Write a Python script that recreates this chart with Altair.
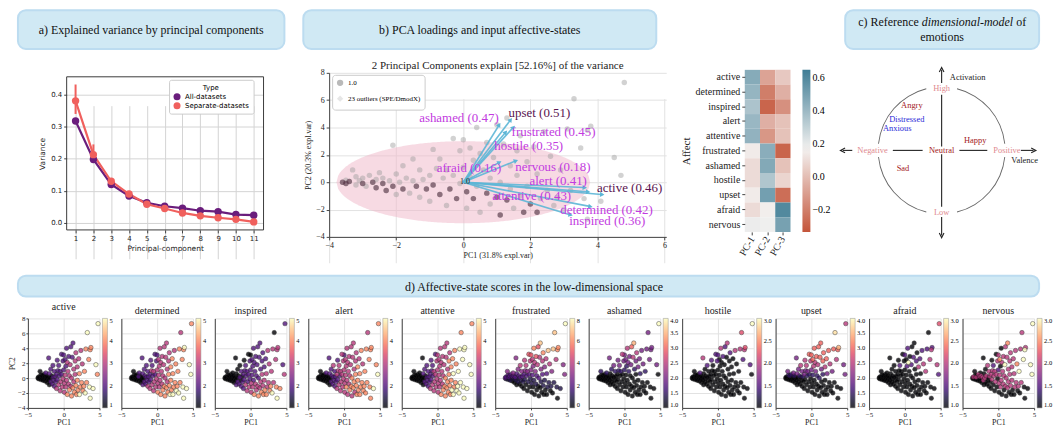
import numpy as np
import pandas as pd
import altair as alt

SERIF = "Liberation Serif"
SANS = "DejaVu Sans"
INK = "#222222"

# ---------------- panel a : explained variance ----------------
pc_index = list(range(1, 12))
var_all = [0.318, 0.198, 0.120, 0.084, 0.063, 0.052, 0.046, 0.038, 0.035, 0.026, 0.024]
var_sep = [0.381, 0.213, 0.130, 0.090, 0.058, 0.045, 0.031, 0.022, 0.016, 0.011, 0.003]
sep_low = [0.340, 0.190, 0.122, 0.086, 0.055, 0.042, 0.029, 0.020, 0.014, 0.009, 0.002]
sep_high = [0.432, 0.245, 0.138, 0.094, 0.061, 0.048, 0.033, 0.024, 0.018, 0.013, 0.004]
type_names = ["All-datasets", "Separate-datasets"]
type_colors = ["#6a1d7c", "#f0605d"]

# ---------------- PCA scores (shared by panel b and d) ----------------
score_pc1 = [
    -3.6, -3.5, -3.5, -3.4, -3.3, -3.2, -3.2, -3.1, -3.0, -3.0,
    -2.9, -2.8, -2.7, -2.6, -2.6, -2.5, -2.4, -2.4, -2.3, -2.2,
    -2.1, -2.1, -2.0, -2.0, -1.9, -1.8, -1.8, -1.7, -1.6, -1.5,
    -1.5, -1.4, -1.3, -1.3, -1.2, -1.1, -1.0, -1.0, -0.9, -0.9,
    -0.8, -0.7, -0.7, -0.6, -0.5, -0.5, -0.4, -0.3, -0.3, -0.2,
    -0.1, -0.1, 0.0, 0.0, 0.1, 0.1, 0.2, 0.2, 0.3, 0.3,
    0.4, 0.4, 0.5, 0.5, 0.6, 0.7, 0.7, 0.8, 0.8, 0.9,
    1.0, 1.0, 1.1, 1.1, 1.2, 1.3, 1.3, 1.4, 1.4, 1.5,
    1.6, 1.6, 1.7, 1.7, 1.8, 1.9, 1.9, 2.0, 2.1, 2.2,
    2.2, 2.3, 2.4, 2.5, 2.6, 2.7, 2.8, 2.9, 3.0, 3.1,
    3.2, 3.3, 3.5, 3.6, 3.7, 3.7, 3.8, 4.1, 4.5, 4.7, 4.8]
score_pc2 = [
    0.0, -0.1, 0.15, 0.05, 0.9, 0.4, -0.2, 0.1, -0.1, 0.3,
    -0.3, 0.5, 0.0, -0.4, 0.2, 0.7, -0.1, 0.3, -0.6, 0.1,
    2.7, -0.3, 0.6, -0.9, 0.0, 1.2, -0.5, 0.3, -0.8, 1.7,
    0.1, -0.3, 0.9, -1.1, 0.2, -0.5, 0.5, -1.4, 2.4, -0.2,
    1.0, -0.9, 1.7, 0.3, -1.7, 0.9, -0.5, 3.2, 0.5, -1.2,
    2.3, -0.1, 3.1, 1.1, -0.7, -1.9, 2.5, 0.4, 1.6, -1.2,
    4.0, -0.3, 2.1, -2.2, 0.9, -0.8, 2.9, -1.6, 0.3, 1.8,
    -1.1, 4.2, 0.0, -2.4, 2.8, -1.3, 4.7, 1.2, -0.5, -1.9,
    2.3, 0.5, -1.0, 3.4, -2.2, 1.5, -0.3, -1.6, 2.6, 0.6,
    -2.2, -1.2, 3.7, -0.6, 1.9, -1.7, -1.1, 0.9, -2.0, 3.9,
    -0.6, 6.1, 2.5, -1.2, 3.8, -2.7, 4.1, -1.4, 1.8, 0.5, 7.3]
dark_points = [0, 1, 3, 8, 12, 13, 16, 18, 21, 26, 31, 35, 39, 41, 46, 49, 54, 59, 65, 70, 73, 75, 84, 87, 90]

# ---------------- panel b : loadings ----------------
affect_names = ["active", "determined", "inspired", "alert", "attentive", "frustrated",
                "ashamed", "hostile", "upset", "afraid", "nervous"]
load_end_x = [4.12, 3.77, 3.18, 3.60, 3.70, 1.48, 1.06, 1.25, 1.40, 1.06, 1.55]
load_end_y = [-0.90, -1.77, -2.38, -0.39, -0.70, 3.98, 4.15, 3.61, 4.53, 1.43, 1.55]
label_txt = ["active (0.46)", "determined (0.42)", "inspired (0.36)", "alert (0.41)",
             "attentive (0.43)", "frustrated (0.45)", "ashamed (0.47)", "hostile (0.35)",
             "upset (0.51)", "afraid (0.16)", "nervous (0.18)"]
label_x = [4.96, 4.27, 4.29, 2.83, 2.04, 2.69, -0.13, 1.95, 2.27, 0.17, 2.67]
label_y = [-0.39, -2.04, -2.86, 0.07, -1.04, 3.66, 4.70, 2.62, 5.07, 1.07, 1.11]
label_is_max = [True, False, False, False, False, False, False, False, True, False, False]
legend_b = ["1.0", "23 outliers (SPE/DmodX)"]
title_b = "2 Principal Components explain [52.16%] of the variance"
ell_rx, ell_ry = 3.78, 3.0

# ---------------- heatmap ----------------
pc_cols = ["PC-1", "PC-2", "PC-3"]
pc1_load = [0.46, 0.42, 0.36, 0.41, 0.43, 0.15, 0.10, 0.10, 0.15, 0.10, 0.19]
pc2_load = [-0.08, -0.20, -0.28, -0.04, -0.12, 0.45, 0.47, 0.35, 0.51, 0.16, 0.18]
pc3_load = [0.04, -0.04, -0.14, 0.02, 0.02, -0.28, 0.02, 0.08, -0.25, 0.60, 0.50]

# ---------------- panel c : dimensional model ----------------
arc_from = [14, 96, 194, 276]
arc_to = [84, 166, 264, 346]
seg_x = [-0.77, 0.28, -1.41, 1.25, 0.0, 0.0, 0.0, 0.0]
seg_y = [0.0, 0.0, 0.0, 0.0, 0.06, 1.06, -0.06, -1.05]
seg_x2 = [-0.30, 0.72, -1.56, 1.45, 0.0, 0.0, 0.0, 0.0]
seg_y2 = [0.0, 0.0, 0.0, 0.0, 0.875, 1.27, -0.89, -1.34]
head_x = [-1.56, 1.45, 0.0, 0.0]
head_y = [0.0, 0.0, 1.27, -1.34]
head_ang = [270, 90, 0, 180]
c_text = ["Activation", "High", "Low", "Negative", "Positive", "Neutral", "Valence",
          "Angry", "Distressed", "Anxious", "Happy", "Sad"]
c_x = [0.41, 0.0, 0.0, -1.09, 1.03, 0.0, 1.31, -0.47, -0.55, -0.70, 0.53, -0.61]
c_y = [1.16, 0.98, -0.97, 0.0, 0.0, 0.0, -0.15, 0.72, 0.50, 0.36, 0.17, -0.28]
c_kind = ["axis", "pole", "pole", "pole", "pole", "emo", "axis", "emo", "anx", "anx", "emo", "emo"]

# ---------------- panel d : affect values per sample ----------------
affect_scores = {
    "active": [1,1,1,1,1,1,1,1,1,1, 1,1,1,1,1,2,1,1,1,1, 2,1,2,1,1,2,2,1,2,2,
               2,2,2,2,2,2,2,3,2,2, 2,3,2,2,3,2,3,2,2,3, 2,3,2,2,3,3,2,3,2,3,
               2,3,3,4,3,3,2,4,3,3, 3,2,3,4,2,4,2,3,3,4, 3,3,4,3,4,3,4,4,3,4,
               5,4,3,4,3,4,4,4,5,4, 4,5,4,5,4,5,4,5,5,4,5],
    "determined": [1,1,1,1,1,1,1,1,1,1, 1,1,1,1,2,2,1,1,1,1, 2,1,2,2,1,2,2,2,2,2,
                   2,2,2,3,2,2,2,3,2,2, 3,3,2,2,3,3,3,2,2,3, 2,3,2,3,3,4,3,3,3,3,
                   3,3,3,4,3,3,3,4,3,3, 4,3,3,4,3,4,3,3,3,4, 3,4,4,3,5,4,4,4,4,4,
                   5,4,3,4,4,5,4,4,5,4, 4,3,4,5,4,5,5,5,5,5,4],
    "inspired": [1,1,1,1,1,1,1,1,1,1, 1,1,1,1,1,1,1,1,1,1, 1,1,1,2,1,1,2,1,2,1,
                 2,1,2,2,1,2,2,2,1,2, 2,3,2,2,3,2,2,1,2,3, 2,2,1,2,3,3,2,2,2,3,
                 2,2,2,4,2,3,2,3,2,2, 3,2,2,4,2,3,2,2,3,4, 2,3,3,2,4,2,3,4,2,3,
                 4,3,3,3,3,4,4,3,5,3, 3,1,3,4,3,5,3,4,2,3,2],
    "alert": [1,1,1,1,1,1,1,1,1,1, 1,1,1,1,1,2,1,1,1,1, 2,1,2,1,1,2,2,2,2,3,
              2,2,2,2,2,2,3,3,2,2, 3,3,3,2,3,3,3,3,3,3, 3,3,2,3,3,3,3,3,3,4,
              3,3,3,3,3,3,3,4,3,3, 4,3,4,3,3,4,3,3,4,3, 3,4,4,3,4,4,4,4,3,4,
              4,4,4,4,3,4,4,4,4,4, 4,3,4,4,4,4,4,5,4,5,4],
    "attentive": [1,1,1,1,1,1,1,1,1,1, 1,1,1,1,1,1,1,1,1,1, 1,1,2,1,1,2,2,1,2,2,
                  2,2,2,2,2,2,2,3,2,2, 2,3,2,2,3,3,3,2,3,3, 3,3,3,3,3,3,3,3,3,3,
                  3,3,3,4,3,3,3,4,3,3, 4,3,4,4,3,4,3,3,4,4, 4,4,4,3,4,4,4,5,4,5,
                  5,4,4,4,4,5,5,5,5,5, 5,4,5,5,5,5,5,5,5,5,4],
    "frustrated": [2,1,2,1,3,2,1,2,1,2, 1,2,1,0,2,3,1,2,0,2, 3,1,2,0,1,3,1,2,0,4,
                   2,1,3,0,2,1,2,0,4,1, 3,0,4,2,0,3,1,5,2,0, 4,1,5,3,1,0,4,2,3,0,
                   6,1,4,0,3,1,5,0,2,4, 0,5,2,0,4,0,7,3,1,0, 4,2,1,6,0,3,1,0,4,2,
                   0,1,7,1,4,0,1,3,0,7, 1,7,4,1,6,0,6,1,3,3,8],
    "ashamed": [1,1,1,1,1.5,1,1,1,1,1, 1,1,1,1,1,1.5,1,1,1,1, 2,1,1,1,1,1.5,1,1,1,2,
                1,1,1.5,1,1,1,1,1,2,1, 1.5,1,2,1,1,1.5,1,2.5,1,1, 2,1,2,1.5,1,1,2,1,1.5,1,
                2.5,1,2,1,1.5,1,2,1,1,2, 1,3,1,1,2.5,1,3.5,1.5,1,1, 2,1,1,2.5,1,2,1,1,2,1.5,
                1,1,2,1,2,1,1,1.5,1,2, 1,2,2,1,2,1,2,1,2,1,4],
    "hostile": [1,1,1,1,1,1,1,1,1,1, 1,1,1,1,1,1.5,1,1,1,1, 2,1,1,1,1,1,1,1,1,1.5,
                1,1,1,1,1,1,1,1,1.5,1, 1,1,1,1,1,1,1,1.5,1,1, 1.5,1,1.5,1,1,1,1,1,1,1,
                2,1,1,1,1,1,1.5,1,1,1, 1,1.5,1,1,1,1,2,1,1,1, 1,1,1,1.5,1,1,1,1,1,1,
                1,1,2,1,1,1,1,1,1,2, 1,2.2,1.5,1,2,1,2.2,1,1.5,1,3],
    "upset": [1,1,1,1,2,1.5,1,1,1,1.5, 1,1.5,1,1,1,2,1,1.5,1,1, 2,1,2,1,1,2,1,1.5,1,2.5,
              1,1,2,1,1.5,1,2,1,2.5,1, 2,1,2.5,1.5,1,2,1,3,1.5,1, 2.5,1,3,2,1,1,3,1.5,2.5,1,
              3,1,2.5,1,2,1,3,1,1.5,2.5, 1,3,1.5,1,3,1,3,2,1,1, 3,1.5,1,3,1,2.5,1,1,3,2,
              1,1,3,1,2.5,1,1,2,1,3, 1,3.8,2.5,1,3,1,3.5,1,2,2,2.5],
    "afraid": [1,1,1,1,1,1,1,1,1,1, 1,1,1,1,1,1,1,1,1,1, 1,1,1,1,1,1,1,1,1,1,
               1,1,1,1,1,1,1,1,1,1, 1,1,1.5,1,1,1,1,1,1,1, 1,1,1.5,1,1,1,1,1,1.5,1,
               1.5,1,3,1,1,1,1,1,1,1.5, 1,1,1,1,1.5,1,1,1,1,1, 1.5,1,1,1,1,2,1,1,1.5,1,
               1,1,1.5,1,2,1,1,2,1,1.5, 1,1,2,1,2,1,1.5,1,2,1.5,2.2],
    "nervous": [1,1,2,1,1,1,1,2,1,1, 1,2,1,1,2,1,1,2,1,2, 1,2,1,1,2,1,1,2,1,2,
                1,1,2,1,2,1,2,1,1,2, 2,1,1.5,2,1,2,2,1,2,1, 2,1,2,1.5,2,1,2.5,2,1,2,
                1,2,2,1,2,2,2,1,2,3, 2,2,2,1,2,2,2.5,2,2,1, 2,2,2,2,1,2,2,1,2,2,
                1,2,2,2,2.5,1,2,3,1,2, 2,2,3,1,3,1,2,1,3,3,3],
}
affect_domain = {
    "active": [1, 5], "determined": [1, 5], "inspired": [1, 5], "alert": [1, 5],
    "attentive": [1, 5], "frustrated": [0, 8], "ashamed": [1, 4], "hostile": [1, 3],
    "upset": [1, 4], "afraid": [1, 3], "nervous": [1, 3],
}
affect_ticks = {
    "active": [1, 2, 3, 4, 5], "determined": [1, 2, 3, 4, 5], "inspired": [1, 2, 3, 4, 5],
    "alert": [1, 2, 3, 4, 5], "attentive": [1, 2, 3, 4, 5], "frustrated": [0, 2, 4, 6, 8],
    "ashamed": [1.0, 1.5, 2.0, 2.5, 3.0, 3.5, 4.0], "hostile": [1.0, 1.5, 2.0, 2.5, 3.0],
    "upset": [1.0, 1.5, 2.0, 2.5, 3.0, 3.5, 4.0], "afraid": [1.0, 1.5, 2.0, 2.5, 3.0],
    "nervous": [1.0, 1.5, 2.0, 2.5, 3.0],
}
half_step = ["ashamed", "hostile", "upset", "afraid", "nervous"]

one_row = pd.DataFrame({"d": [0]})
ROW2_H = 215


def spacer(w, h=1):
    return alt.Chart(one_row).mark_point(opacity=0, size=1).encode(
        x=alt.value(0.5), y=alt.value(0.5)).properties(width=w, height=h)


def resolved(c):
    return c.resolve_scale(x="independent", y="independent", color="independent",
                           shape="independent")


def hcat(items):
    return resolved(alt.hconcat(*items, spacing=0, bounds="flush"))


BANNER_VIEW = alt.ViewBackground(fill="#d0e9f4", stroke="#bcdcf0", strokeWidth=2, cornerRadius=8)


def banner(w, h, parts, size=12):
    layers = []
    for (txt, px, py, al, style) in parts:
        layers.append(alt.Chart(one_row).mark_text(
            text=txt, font=SERIF, fontSize=size, fontStyle=style, color="#111",
            align=al, baseline="middle").encode(x=alt.value(px), y=alt.value(py)))
    return alt.layer(*layers).properties(width=w, height=h, view=BANNER_VIEW)


# ================= panel a =================
A_TOP, A_BOT = 16, 170
dfa = pd.DataFrame({"pc": pc_index * 2, "var": var_all + var_sep,
                    "type": [type_names[0]] * 11 + [type_names[1]] * 11})
dfe = pd.DataFrame({"pc": pc_index, "lo": sep_low, "hi": sep_high})
xa_dom = [0.5, 11.55]
ya_dom = [-0.022, 0.456]
dfframe = pd.DataFrame({"x1": [xa_dom[0]], "x2": [xa_dom[1]], "y1": [ya_dom[0]], "y2": [ya_dom[1]]})
ax_a_x = alt.Axis(values=pc_index, title="Principal-component", labelFont=SANS, titleFont=SANS,
                  labelFontSize=7, titleFontSize=7.5, tickSize=3, labelPadding=2, titlePadding=3,
                  labelFlush=False, domain=False, gridColor="#d4d4d4", offset=A_BOT - ROW2_H)
ax_a_y = alt.Axis(values=[0, 0.1, 0.2, 0.3, 0.4], format=".1f", title="Variance", labelFont=SANS,
                  titleFont=SANS, labelFontSize=7, titleFontSize=7.5, tickSize=3, labelPadding=2,
                  titlePadding=4, domain=False, gridColor="#d4d4d4")
sx_a = alt.Scale(domain=xa_dom, nice=False, zero=False)
sy_a = alt.Scale(domain=ya_dom, nice=False, zero=False, range=[A_BOT, A_TOP])
leg_a = alt.Legend(title="Type", orient="none", legendX=103, legendY=A_TOP + 3, titleFont=SANS,
                   labelFont=SANS, titleFontSize=7, labelFontSize=7, titleFontWeight="normal",
                   titleAnchor="middle", fillColor="white", strokeColor="#cccccc", padding=4,
                   cornerRadius=2, symbolType="circle", symbolSize=50, rowPadding=1, titlePadding=2,
                   symbolStrokeWidth=0)
col_a = alt.Color("type:N", scale=alt.Scale(domain=type_names, range=type_colors), legend=leg_a)


def xa(f):
    return alt.X(f, type="quantitative", scale=sx_a, axis=ax_a_x)


def ya(f):
    return alt.Y(f, type="quantitative", scale=sy_a, axis=ax_a_y)


frame_a = alt.Chart(dfframe).mark_rect(filled=False, stroke="#3a3a3a", strokeWidth=1).encode(
    x=xa("x1"), x2="x2", y=ya("y1"), y2="y2")
err_a = alt.Chart(dfe).mark_rule(strokeWidth=2, color=type_colors[1]).encode(
    x=xa("pc"), y=ya("lo"), y2="hi")
line_a = alt.Chart(dfa).mark_line(strokeWidth=2.2).encode(x=xa("pc"), y=ya("var"), color=col_a)
pts_a = alt.Chart(dfa).mark_circle(size=55, opacity=1).encode(x=xa("pc"), y=ya("var"), color=col_a)
panel_a = alt.layer(frame_a, err_a, line_a, pts_a).properties(width=198, height=ROW2_H)

# ================= panel b =================
B_TOP, B_BOT = 12, 177
sx_b = alt.Scale(domain=[-4, 6.05], nice=False, zero=False)
sy_b = alt.Scale(domain=[-4, 8], nice=False, zero=False, range=[B_BOT, B_TOP])
ax_b_x = alt.Axis(values=[-4, -2, 0, 2, 4, 6], title="PC1 (31.8% expl.var)", labelFontSize=8,
                  titleFontSize=8, tickSize=3, labelPadding=2, titlePadding=2, labelFlush=False,
                  offset=B_BOT - ROW2_H)
ax_b_y = alt.Axis(values=[-4, -2, 0, 2, 4, 6, 8], title="PC2 (20.3% expl.var)", labelFontSize=8,
                  titleFontSize=8, tickSize=3, labelPadding=2, titlePadding=3)


def xb(f):
    return alt.X(f, type="quantitative", scale=sx_b, axis=ax_b_x)


def yb(f):
    return alt.Y(f, type="quantitative", scale=sy_b, axis=ax_b_y)


dfb = pd.DataFrame({"pc1": score_pc1, "pc2": score_pc2, "grp": [legend_b[0]] * len(score_pc1)})
dfdark = dfb.iloc[dark_points]
ex = np.linspace(-ell_rx, ell_rx, 161)
half = ell_ry * np.sqrt(np.clip(1 - (ex / ell_rx) ** 2, 0, 1))
dfell = pd.DataFrame({"ex": ex, "top": half, "bot": -half})
ppx = 339 / 10.05
ppy = (B_BOT - B_TOP) / 12.0
ang = (np.degrees(np.arctan2(np.array(load_end_x) * ppx, np.array(load_end_y) * ppy)) + 360) % 360
dfarr = pd.DataFrame({"x0": [0.0] * 11, "y0": [0.0] * 11, "xe": load_end_x, "ye": load_end_y,
                      "ang": ang})
dflab = pd.DataFrame({"lx": label_x, "ly": label_y, "txt": label_txt, "mx": label_is_max})
dforig = pd.DataFrame({"ox": [0.05], "oy": [0.05], "t": ["1.0"]})

leg_b = alt.Legend(title=None, orient="none", legendX=3, legendY=B_TOP + 2, labelFont=SERIF,
                   labelFontSize=7, fillColor="white", strokeColor="#cccccc", padding=4,
                   cornerRadius=3, symbolSize=40, rowPadding=2, symbolOpacity=0.7)
ell_b = alt.Chart(dfell).mark_area(color="#f0b5c8", opacity=0.5).encode(
    x=xb("ex"), y=yb("top"), y2="bot")
grey_b = alt.Chart(dfb).mark_point(filled=True, opacity=0.45, size=30).encode(
    x=xb("pc1"), y=yb("pc2"),
    color=alt.Color("grp:N", scale=alt.Scale(domain=legend_b, range=["#9c9c9c", "#dcdcdc"]), legend=leg_b),
    shape=alt.Shape("grp:N", scale=alt.Scale(domain=legend_b, range=["circle", "diamond"]), legend=leg_b))
dark_b = alt.Chart(dfdark).mark_point(filled=True, opacity=0.5, size=30, color="#4a1f36").encode(
    x=xb("pc1"), y=yb("pc2"))
rule_b = alt.Chart(dfarr).mark_rule(color="#5cb6d6", strokeWidth=1.6, opacity=0.9).encode(
    x=xb("x0"), y=yb("y0"), x2="xe", y2="ye")
head_b = alt.Chart(dfarr).mark_point(shape="triangle", filled=True, size=26, color="#5cb6d6",
                                     opacity=1).encode(
    x=xb("xe"), y=yb("ye"), angle=alt.Angle("ang:Q", scale=None))
lab_main = alt.Chart(dflab[~dflab["mx"]]).mark_text(
    font=SERIF, fontSize=13, color="#c23be0", align="center", baseline="middle").encode(
    x=xb("lx"), y=yb("ly"), text="txt:N")
lab_max = alt.Chart(dflab[dflab["mx"]]).mark_text(
    font=SERIF, fontSize=13, color="#5a1450", align="center", baseline="middle").encode(
    x=xb("lx"), y=yb("ly"), text="txt:N")
orig_b = alt.Chart(dforig).mark_text(font=SERIF, fontSize=8, color=INK, baseline="middle").encode(
    x=xb("ox"), y=yb("oy"), text="t:N")
ttl_b = alt.Chart(one_row).mark_text(text=title_b, font=SERIF, fontSize=11, color=INK,
                                     align="center", baseline="middle").encode(
    x=alt.value(169.5), y=alt.value(5))
panel_b = alt.layer(ell_b, grey_b, dark_b, rule_b, head_b, lab_main, lab_max, orig_b, ttl_b).properties(
    width=339, height=ROW2_H)

# ================= heatmap =================
H_TOP, H_BOT = 9, 172
dfh = pd.DataFrame({"affect": affect_names * 3,
                    "pc": [pc_cols[0]] * 11 + [pc_cols[1]] * 11 + [pc_cols[2]] * 11,
                    "val": pc1_load + pc2_load + pc3_load})
heat = alt.Chart(dfh).mark_rect().encode(
    x=alt.X("pc:N", sort=pc_cols, scale=alt.Scale(paddingInner=0, paddingOuter=0),
            axis=alt.Axis(title=None, labelAngle=300, labelAlign="right", labelBaseline="middle",
                          labelFontSize=10, tickSize=3, labelPadding=2, domain=False, grid=False,
                          offset=H_BOT - ROW2_H)),
    y=alt.Y("affect:N", sort=affect_names,
            scale=alt.Scale(paddingInner=0, paddingOuter=0, range=[H_TOP, H_BOT]),
            axis=alt.Axis(title="Affect", labelFontSize=10, titleFontSize=11, tickSize=3,
                          labelPadding=2, titlePadding=4, domain=False, grid=False)),
    color=alt.Color("val:Q", scale=alt.Scale(domain=[-0.33, 0.17, 0.65],
                                             range=["#c4553a", "#f3f1f0", "#3f7d95"],
                                             interpolate="rgb"),
                    legend=alt.Legend(title=None, values=[-0.2, 0.0, 0.2, 0.4, 0.6], format=".1f",
                                      gradientLength=H_BOT - H_TOP, gradientThickness=8,
                                      orient="none", legendX=58, legendY=H_TOP,
                                      labelFont=SERIF, labelFontSize=10, labelOverlap=False,
                                      padding=0)),
).properties(width=46, height=ROW2_H)

# ================= panel c =================
sx_c = alt.Scale(domain=[-1.6, 1.6], nice=False, zero=False)
sy_c = alt.Scale(domain=[-1.41, 1.41], nice=False, zero=False)
dfarc = pd.DataFrame({"cx": [0.0] * 4, "cy": [0.0] * 4,
                      "t1": np.radians(arc_from), "t2": np.radians(arc_to)})
arcs_c = alt.Chart(dfarc).mark_arc(innerRadius=63.4, outerRadius=64.3, color="#666666").encode(
    x=alt.X("cx:Q", scale=sx_c, axis=None), y=alt.Y("cy:Q", scale=sy_c, axis=None),
    theta=alt.Theta("t1:Q", scale=None), theta2="t2:Q")
dfseg = pd.DataFrame({"x": seg_x, "y": seg_y, "x2": seg_x2, "y2": seg_y2})
segs_c = alt.Chart(dfseg).mark_rule(color="#222222", strokeWidth=1.1).encode(
    x=alt.X("x:Q", scale=sx_c, axis=None), y=alt.Y("y:Q", scale=sy_c, axis=None), x2="x2:Q", y2="y2:Q")
dfhead = pd.DataFrame({"x": head_x, "y": head_y, "a": head_ang})
heads_c = alt.Chart(dfhead).mark_point(shape="M -1 1 L 0 -1 L 1 1", filled=False, size=22,
                                       color="#222222", strokeWidth=1.1, opacity=1).encode(
    x=alt.X("x:Q", scale=sx_c, axis=None), y=alt.Y("y:Q", scale=sy_c, axis=None),
    angle=alt.Angle("a:Q", scale=None))
dfct = pd.DataFrame({"x": c_x, "y": c_y, "t": c_text, "k": c_kind})
text_c = alt.Chart(dfct).mark_text(font=SERIF, fontSize=8.5, baseline="middle").encode(
    x=alt.X("x:Q", scale=sx_c, axis=None), y=alt.Y("y:Q", scale=sy_c, axis=None), text="t:N",
    color=alt.Color("k:N", scale=alt.Scale(domain=["axis", "pole", "emo", "anx"],
                                           range=["#1a1a1a", "#e08a8f", "#a3171b", "#2a2ad8"]),
                    legend=None))
panel_c = alt.layer(arcs_c, segs_c, heads_c, text_c).properties(width=204, height=180)


# ================= panel d =================
def small_panel(i, name):
    df = pd.DataFrame({"pc1": score_pc1, "pc2": score_pc2, "v": affect_scores[name]})
    first = i == 0
    ticks = affect_ticks[name]
    fmt = ".1f" if name in half_step else "d"
    return alt.Chart(df).mark_circle(size=20, opacity=0.8, stroke="#1a1a1a", strokeWidth=0.5).encode(
        x=alt.X("pc1:Q", scale=alt.Scale(domain=[-5, 5], nice=False, zero=False),
                axis=alt.Axis(values=[-5, 0, 5], title="PC1", labelFontSize=7, titleFontSize=8,
                              tickSize=2, labelPadding=1, titlePadding=1, labelFlush=False)),
        y=alt.Y("pc2:Q", scale=alt.Scale(domain=[-4, 8], nice=False, zero=False),
                axis=alt.Axis(values=[-4, -2, 0, 2, 4, 6, 8], labels=first, ticks=first,
                              title="PC2" if first else "", labelFontSize=7, titleFontSize=7.5,
                              tickSize=2, labelPadding=1, titlePadding=1)),
        color=alt.Color("v:Q", scale=alt.Scale(scheme="magma", domain=affect_domain[name]),
                        legend=alt.Legend(title=None, values=ticks, format=fmt, gradientLength=90,
                                          gradientThickness=5, offset=3, padding=0, labelOffset=2,
                                          labelFont=SERIF, labelFontSize=6.5, labelOverlap=False,
                                          gradientStrokeColor="#777777", gradientStrokeWidth=0.5)),
        order=alt.Order("v:Q", sort="ascending"),
    ).properties(width=72, height=90,
                 title=alt.TitleParams(name, fontSize=10, font=SERIF, fontWeight="normal",
                                       color=INK, offset=2))


row4_items = [spacer(20)]
for i, n in enumerate(affect_names):
    if i > 0:
        row4_items.append(spacer(21.2))
    row4_items.append(small_panel(i, n))

# ================= layout =================
row1 = hcat([
    spacer(10),
    banner(268, 39, [("a) Explained variance by principal components", 134, 20, "center", "normal")]),
    spacer(19),
    banner(355, 39, [("b) PCA loadings and input affective-states", 177.5, 20, "center", "normal")]),
    spacer(190),
    banner(195, 39, [("c) Reference", 74, 12, "right", "normal"),
                     ("dimensional-model", 77, 12, "left", "italic"),
                     ("of", 172, 12, "left", "normal"),
                     ("emotions", 97.5, 27, "center", "normal")]),
])
row2 = hcat([
    spacer(59), panel_a, spacer(66), panel_b, spacer(79), heat, spacer(50), panel_c,
])
row3 = hcat([spacer(10),
             banner(1027, 21, [("d) Affective-state scores in the low-dimensional space", 519, 11, "center", "normal")])])
row4 = hcat(row4_items)

chart = resolved(alt.vconcat(row1, spacer(1, 10), row2, row3, spacer(1, 5), row4,
                             spacing=0, bounds="full")).properties(
    padding={"left": 0, "top": 0, "right": 0, "bottom": 0}
).configure_view(strokeWidth=0).configure_axis(
    labelFont=SERIF, titleFont=SERIF, titleFontWeight="normal", gridColor="#e2e2e2",
    domainColor="#444444", tickColor="#444444", labelColor=INK, titleColor=INK
).configure_title(font=SERIF, fontWeight="normal", color=INK)

chart.save("out.html", embed_options={"renderer": "svg", "actions": False})
